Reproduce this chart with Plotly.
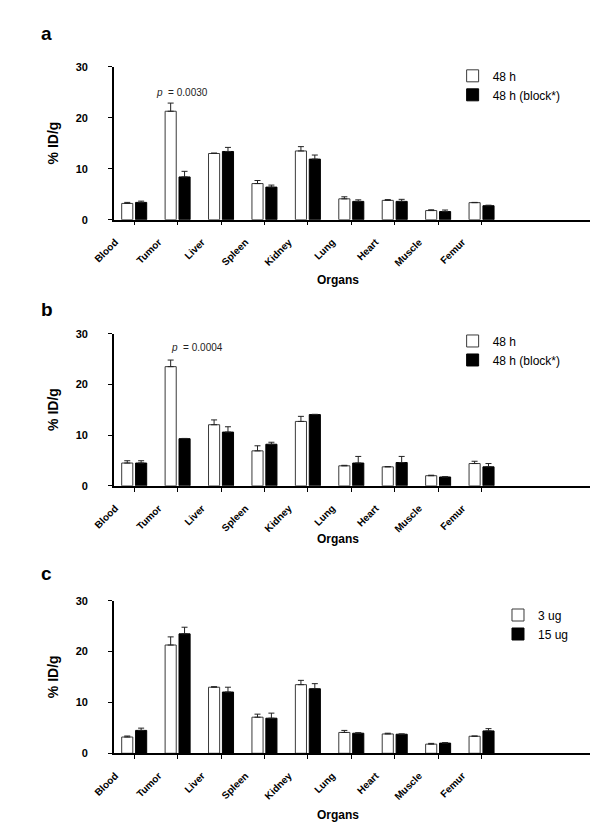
import plotly.graph_objects as go

# ---------------- data ----------------
organs = ["Blood", "Tumor", "Liver", "Spleen", "Kidney", "Lung", "Heart", "Muscle", "Femur"]

# panel a
a_48h = [3.2, 21.3, 13.0, 7.1, 13.5, 4.1, 3.8, 1.8, 3.35]
a_48h_err = [0.2, 1.6, 0.1, 0.6, 0.85, 0.4, 0.15, 0.15, 0.05]
a_block = [3.4, 8.4, 13.4, 6.4, 11.9, 3.6, 3.6, 1.6, 2.75]
a_block_err = [0.25, 1.1, 0.8, 0.4, 0.8, 0.3, 0.4, 0.3, 0.1]

# panel b
b_48h = [4.5, 23.5, 12.05, 6.9, 12.7, 3.95, 3.75, 2.0, 4.4]
b_48h_err = [0.45, 1.3, 0.95, 1.0, 1.0, 0.1, 0.05, 0.1, 0.45]
b_block = [4.5, 9.3, 10.6, 8.2, 14.05, 4.5, 4.6, 1.75, 3.75]
b_block_err = [0.45, 0.05, 1.05, 0.4, 0.05, 1.3, 1.2, 0.05, 0.65]

# panel c
c_3ug = [3.2, 21.3, 13.0, 7.1, 13.5, 4.1, 3.8, 1.8, 3.35]
c_3ug_err = [0.2, 1.6, 0.1, 0.6, 0.85, 0.4, 0.15, 0.15, 0.05]
c_15ug = [4.5, 23.5, 12.05, 6.9, 12.7, 3.95, 3.75, 2.0, 4.4]
c_15ug_err = [0.45, 1.3, 0.95, 1.0, 1.0, 0.1, 0.05, 0.1, 0.45]

y_ticks = [0, 10, 20, 30]
p_a = "0.0030"
p_b = "0.0004"

# ---------------- layout helpers ----------------
W, H = 600, 840
OFF = 8  # page body margin compensation
FONT = "Liberation Sans, Arial, Helvetica, sans-serif"


def px(x):
    return (x - OFF) / W


def py(y):
    return 1 - (y - OFF) / H


X_DOM = [px(96), px(589)]

panels = [
    dict(letter="a", ax="", y0=216.7, y30=61.7, letter_y=28, title_y=278,
         leg_x=447, leg_y=56,
         series=[("48 h", a_48h, a_48h_err, "white"),
                 ("48 h (block*)", a_block, a_block_err, "black")],
         p=(p_a, 1.11, 24.9)),
    dict(letter="b", ax="2", y0=486.7, y30=332.3, letter_y=308, title_y=541,
         leg_x=447, leg_y=325,
         series=[("48 h", b_48h, b_48h_err, "white"),
                 ("48 h (block*)", b_block, b_block_err, "black")],
         p=(p_b, 1.44, 27.3)),
    dict(letter="c", ax="3", y0=758.0, y30=603.3, letter_y=576, title_y=821,
         leg_x=494, leg_y=603,
         series=[("3 ug", c_3ug, c_3ug_err, "white"),
                 ("15 ug", c_15ug, c_15ug_err, "black")],
         p=None),
]

fig = go.Figure()
layout = dict(
    width=W, height=H,
    margin=dict(l=0, r=0, t=0, b=0),
    paper_bgcolor="white", plot_bgcolor="white",
    barmode="group", bargap=0.36, bargroupgap=0.2,
    font=dict(family=FONT, color="black"),
    annotations=[],
)

for i, p in enumerate(panels):
    ax = p["ax"]
    leg = "legend" + ax
    for name, vals, err, col in p["series"]:
        fig.add_trace(go.Bar(
            x=organs, y=vals, name=name,
            xaxis="x" + ax, yaxis="y" + ax, legend=leg,
            marker=dict(color=col, line=dict(color="#3a3a3a" if col == "white" else "black", width=1)),
            error_y=dict(type="data", array=err, arrayminus=[0] * len(err), symmetric=False,
                         color="#222222", thickness=1, width=3),
        ))
    layout["xaxis" + ax] = dict(
        domain=X_DOM, anchor="y" + ax, type="category",
        categoryorder="array", categoryarray=organs,
        range=[-0.467, 10.49],
        showline=True, linecolor="black", linewidth=1.5,
        ticks="outside", ticklen=4, tickcolor="black", tickwidth=1,
        tickangle=-45, tickfont=dict(size=10, weight="bold", family=FONT),
        ticklabelshift=-19, ticklabelstandoff=7,
        showgrid=False, zeroline=False, fixedrange=True,
    )
    layout["yaxis" + ax] = dict(
        domain=[py(p["y0"]), py(p["y30"])], anchor="x" + ax,
        range=[0, 30], tickvals=y_ticks,
        showline=True, linecolor="black", linewidth=1.5,
        ticks="outside", ticklen=4, tickcolor="black", tickwidth=1,
        tickfont=dict(size=11, weight="bold", family=FONT),
        ticklabelstandoff=18,
        showgrid=False, zeroline=False, fixedrange=True,
    )
    layout[leg] = dict(
        x=px(p["leg_x"]), y=py(p["leg_y"]), xanchor="left", yanchor="top",
        bgcolor="rgba(0,0,0,0)", font=dict(size=12, family=FONT),
        traceorder="normal",
    )
    layout["annotations"].append(dict(
        text="<b>%s</b>" % p["letter"], x=px(18), y=py(p["letter_y"]),
        xref="paper", yref="paper", xanchor="left", yanchor="middle",
        showarrow=False, font=dict(size=19, family=FONT)))
    layout["annotations"].append(dict(
        text="<b>% ID/g</b>", x=px(33), y=py((p["y0"] + p["y30"]) / 2),
        xref="paper", yref="paper", xanchor="center", yanchor="middle",
        textangle=-90, showarrow=False, font=dict(size=14, family=FONT)))
    layout["annotations"].append(dict(
        text="<b>Organs</b>", x=px(328), y=py(p["title_y"]),
        xref="paper", yref="paper", xanchor="center", yanchor="middle",
        showarrow=False, font=dict(size=12, family=FONT)))
    if p["p"] is not None:
        txt, xx, yy = p["p"]
        layout["annotations"].append(dict(
            text="<i>p</i>  = " + txt, x=xx, y=yy,
            xref="x" + ax, yref="y" + ax, xanchor="center", yanchor="middle",
            showarrow=False, font=dict(size=10, family=FONT, color="#222")))

fig.update_layout(**layout)
fig.write_html("out.html")
